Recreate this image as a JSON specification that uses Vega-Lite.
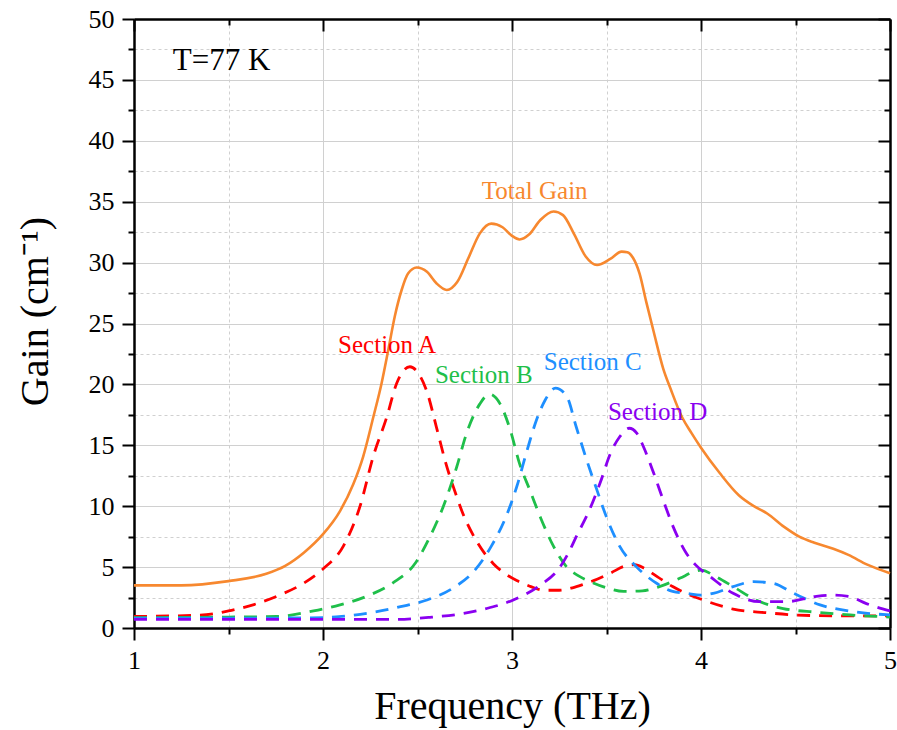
{
  "$schema": "https://vega.github.io/schema/vega-lite/v6.json",
  "width": 756,
  "height": 609,
  "autosize": {"type": "none"},
  "padding": {"left": 134, "top": 19, "right": 7, "bottom": 102},
  "background": "white",
  "config": {
    "view": {"stroke": null},
    "axis": {
      "labelFont": "Liberation Serif",
      "labelFontSize": 26,
      "labelColor": "black",
      "titleFont": "Liberation Serif",
      "titleFontWeight": "normal",
      "titleColor": "black",
      "tickColor": "black",
      "tickWidth": 2,
      "domainColor": "black",
      "domainWidth": 2.5,
      "labelFlush": false,
      "labelOverlap": false,
      "gridColor": "#d0d0d0",
      "gridWidth": 1
    },
    "text": {"font": "Liberation Serif"}
  },
  "datasets": {
    "total": [
      {"f": 1.0, "g": 3.5}, {"f": 1.25, "g": 3.5}, {"f": 1.5, "g": 3.85}, {"f": 1.7, "g": 4.45},
      {"f": 1.8, "g": 5.1}, {"f": 1.9, "g": 6.2}, {"f": 2.0, "g": 7.7}, {"f": 2.09, "g": 9.6},
      {"f": 2.16, "g": 11.8}, {"f": 2.213, "g": 14.1}, {"f": 2.266, "g": 17.3}, {"f": 2.31, "g": 20.1},
      {"f": 2.345, "g": 22.8}, {"f": 2.38, "g": 25.6}, {"f": 2.416, "g": 27.75}, {"f": 2.45, "g": 29.1},
      {"f": 2.496, "g": 29.6}, {"f": 2.55, "g": 29.25}, {"f": 2.6, "g": 28.3}, {"f": 2.655, "g": 27.75},
      {"f": 2.71, "g": 28.4}, {"f": 2.77, "g": 30.4}, {"f": 2.83, "g": 32.4}, {"f": 2.89, "g": 33.2},
      {"f": 2.95, "g": 32.9}, {"f": 3.0, "g": 32.2}, {"f": 3.04, "g": 31.9}, {"f": 3.09, "g": 32.3},
      {"f": 3.15, "g": 33.5}, {"f": 3.22, "g": 34.2}, {"f": 3.27, "g": 33.9}, {"f": 3.33, "g": 32.3},
      {"f": 3.39, "g": 30.5}, {"f": 3.45, "g": 29.8}, {"f": 3.52, "g": 30.3}, {"f": 3.58, "g": 30.9},
      {"f": 3.61, "g": 30.85}, {"f": 3.64, "g": 30.4}, {"f": 3.675, "g": 29.1}, {"f": 3.71, "g": 26.8},
      {"f": 3.75, "g": 24.3},
      {"f": 3.8, "g": 21.3}, {"f": 3.84, "g": 19.6}, {"f": 3.9, "g": 17.3}, {"f": 3.95, "g": 16.0},
      {"f": 4.0, "g": 14.8}, {"f": 4.1, "g": 12.7}, {"f": 4.2, "g": 10.9}, {"f": 4.28, "g": 10.0},
      {"f": 4.35, "g": 9.4}, {"f": 4.44, "g": 8.3}, {"f": 4.52, "g": 7.5}, {"f": 4.6, "g": 7.0},
      {"f": 4.7, "g": 6.5}, {"f": 4.78, "g": 6.0}, {"f": 4.88, "g": 5.2}, {"f": 5.0, "g": 4.5}
    ],
    "sections": [
      {"s": "Section A", "f": 1.0, "g": 0.95}, {"s": "Section A", "f": 1.35, "g": 1.05}, {"s": "Section A", "f": 1.5, "g": 1.4},
      {"s": "Section A", "f": 1.65, "g": 2.0}, {"s": "Section A", "f": 1.77, "g": 2.7}, {"s": "Section A", "f": 1.9, "g": 3.7},
      {"s": "Section A", "f": 2.0, "g": 4.85}, {"s": "Section A", "f": 2.107, "g": 6.7}, {"s": "Section A", "f": 2.196, "g": 10.0},
      {"s": "Section A", "f": 2.266, "g": 14.1}, {"s": "Section A", "f": 2.337, "g": 17.3}, {"s": "Section A", "f": 2.39, "g": 20.1},
      {"s": "Section A", "f": 2.43, "g": 21.2}, {"s": "Section A", "f": 2.46, "g": 21.45},
      {"s": "Section A", "f": 2.505, "g": 20.9}, {"s": "Section A", "f": 2.55, "g": 19.4}, {"s": "Section A", "f": 2.6, "g": 16.5},
      {"s": "Section A", "f": 2.645, "g": 13.8}, {"s": "Section A", "f": 2.707, "g": 10.8}, {"s": "Section A", "f": 2.74, "g": 9.4},
      {"s": "Section A", "f": 2.81, "g": 7.2}, {"s": "Section A", "f": 2.9, "g": 5.3},
      {"s": "Section A", "f": 2.96, "g": 4.5}, {"s": "Section A", "f": 3.025, "g": 3.9}, {"s": "Section A", "f": 3.1, "g": 3.4},
      {"s": "Section A", "f": 3.166, "g": 3.1}, {"s": "Section A", "f": 3.25, "g": 3.1}, {"s": "Section A", "f": 3.32, "g": 3.3},
      {"s": "Section A", "f": 3.38, "g": 3.6},
      {"s": "Section A", "f": 3.45, "g": 4.0}, {"s": "Section A", "f": 3.52, "g": 4.5}, {"s": "Section A", "f": 3.6, "g": 5.1},
      {"s": "Section A", "f": 3.65, "g": 5.2}, {"s": "Section A", "f": 3.7, "g": 4.9}, {"s": "Section A", "f": 3.77, "g": 4.2},
      {"s": "Section A", "f": 3.85, "g": 3.4}, {"s": "Section A", "f": 3.92, "g": 2.85}, {"s": "Section A", "f": 4.03, "g": 2.2},
      {"s": "Section A", "f": 4.17, "g": 1.55}, {"s": "Section A", "f": 4.35, "g": 1.25}, {"s": "Section A", "f": 4.5, "g": 1.07},
      {"s": "Section A", "f": 4.7, "g": 1.0}, {"s": "Section A", "f": 5.0, "g": 1.0},

      {"s": "Section B", "f": 1.0, "g": 0.85}, {"s": "Section B", "f": 1.5, "g": 0.9}, {"s": "Section B", "f": 1.755, "g": 0.95},
      {"s": "Section B", "f": 1.95, "g": 1.4}, {"s": "Section B", "f": 2.09, "g": 1.9}, {"s": "Section B", "f": 2.23, "g": 2.6},
      {"s": "Section B", "f": 2.37, "g": 3.7}, {"s": "Section B", "f": 2.487, "g": 5.3}, {"s": "Section B", "f": 2.566, "g": 7.5},
      {"s": "Section B", "f": 2.637, "g": 10.0}, {"s": "Section B", "f": 2.707, "g": 13.2},
      {"s": "Section B", "f": 2.76, "g": 16.0}, {"s": "Section B", "f": 2.83, "g": 18.4}, {"s": "Section B", "f": 2.88, "g": 19.2},
      {"s": "Section B", "f": 2.937, "g": 18.4}, {"s": "Section B", "f": 2.99, "g": 16.3}, {"s": "Section B", "f": 3.04, "g": 13.5},
      {"s": "Section B", "f": 3.095, "g": 11.3}, {"s": "Section B", "f": 3.15, "g": 9.1}, {"s": "Section B", "f": 3.22, "g": 6.7},
      {"s": "Section B", "f": 3.29, "g": 5.0}, {"s": "Section B", "f": 3.35, "g": 4.3}, {"s": "Section B", "f": 3.43, "g": 3.7},
      {"s": "Section B", "f": 3.5, "g": 3.3}, {"s": "Section B", "f": 3.59, "g": 3.0}, {"s": "Section B", "f": 3.69, "g": 3.05},
      {"s": "Section B", "f": 3.78, "g": 3.4}, {"s": "Section B", "f": 3.89, "g": 4.1}, {"s": "Section B", "f": 3.96, "g": 4.6},
      {"s": "Section B", "f": 4.0, "g": 4.75}, {"s": "Section B", "f": 4.08, "g": 4.2}, {"s": "Section B", "f": 4.17, "g": 3.4},
      {"s": "Section B", "f": 4.29, "g": 2.3}, {"s": "Section B", "f": 4.435, "g": 1.6}, {"s": "Section B", "f": 4.61, "g": 1.3},
      {"s": "Section B", "f": 4.79, "g": 1.07}, {"s": "Section B", "f": 5.0, "g": 0.9},

      {"s": "Section C", "f": 1.0, "g": 0.8}, {"s": "Section C", "f": 1.5, "g": 0.8}, {"s": "Section C", "f": 2.0, "g": 0.85},
      {"s": "Section C", "f": 2.1, "g": 0.95}, {"s": "Section C", "f": 2.27, "g": 1.3}, {"s": "Section C", "f": 2.41, "g": 1.75},
      {"s": "Section C", "f": 2.55, "g": 2.3}, {"s": "Section C", "f": 2.69, "g": 3.3}, {"s": "Section C", "f": 2.795, "g": 4.6},
      {"s": "Section C", "f": 2.89, "g": 6.7}, {"s": "Section C", "f": 2.97, "g": 9.2},
      {"s": "Section C", "f": 3.025, "g": 11.6}, {"s": "Section C", "f": 3.08, "g": 14.6},
      {"s": "Section C", "f": 3.13, "g": 17.1}, {"s": "Section C", "f": 3.175, "g": 18.7}, {"s": "Section C", "f": 3.23, "g": 19.7},
      {"s": "Section C", "f": 3.29, "g": 19.0}, {"s": "Section C", "f": 3.34, "g": 16.5}, {"s": "Section C", "f": 3.395, "g": 13.8},
      {"s": "Section C", "f": 3.45, "g": 11.3}, {"s": "Section C", "f": 3.5, "g": 9.1}, {"s": "Section C", "f": 3.57, "g": 6.7},
      {"s": "Section C", "f": 3.66, "g": 5.0}, {"s": "Section C", "f": 3.765, "g": 3.67}, {"s": "Section C", "f": 3.85, "g": 3.0},
      {"s": "Section C", "f": 3.924, "g": 2.85}, {"s": "Section C", "f": 4.0, "g": 2.7}, {"s": "Section C", "f": 4.065, "g": 2.85},
      {"s": "Section C", "f": 4.17, "g": 3.4}, {"s": "Section C", "f": 4.277, "g": 3.8}, {"s": "Section C", "f": 4.38, "g": 3.67},
      {"s": "Section C", "f": 4.49, "g": 2.85}, {"s": "Section C", "f": 4.63, "g": 1.9}, {"s": "Section C", "f": 4.81, "g": 1.34},
      {"s": "Section C", "f": 5.0, "g": 1.07},

      {"s": "Section D", "f": 1.0, "g": 0.7}, {"s": "Section D", "f": 2.0, "g": 0.7}, {"s": "Section D", "f": 2.37, "g": 0.7},
      {"s": "Section D", "f": 2.566, "g": 0.88}, {"s": "Section D", "f": 2.725, "g": 1.15}, {"s": "Section D", "f": 2.866, "g": 1.6},
      {"s": "Section D", "f": 3.007, "g": 2.3}, {"s": "Section D", "f": 3.148, "g": 3.5},
      {"s": "Section D", "f": 3.254, "g": 5.0}, {"s": "Section D", "f": 3.3, "g": 6.2}, {"s": "Section D", "f": 3.34, "g": 7.5},
      {"s": "Section D", "f": 3.41, "g": 9.7}, {"s": "Section D", "f": 3.466, "g": 11.9}, {"s": "Section D", "f": 3.52, "g": 14.3},
      {"s": "Section D", "f": 3.57, "g": 15.7}, {"s": "Section D", "f": 3.62, "g": 16.4}, {"s": "Section D", "f": 3.66, "g": 16.0},
      {"s": "Section D", "f": 3.695, "g": 14.9}, {"s": "Section D", "f": 3.75, "g": 12.7}, {"s": "Section D", "f": 3.8, "g": 10.5},
      {"s": "Section D", "f": 3.853, "g": 8.3}, {"s": "Section D", "f": 3.924, "g": 6.1}, {"s": "Section D", "f": 3.97, "g": 5.2},
      {"s": "Section D", "f": 4.05, "g": 4.2}, {"s": "Section D", "f": 4.17, "g": 2.85}, {"s": "Section D", "f": 4.31, "g": 2.16},
      {"s": "Section D", "f": 4.45, "g": 2.16}, {"s": "Section D", "f": 4.61, "g": 2.6}, {"s": "Section D", "f": 4.7, "g": 2.7},
      {"s": "Section D", "f": 4.78, "g": 2.6}, {"s": "Section D", "f": 4.875, "g": 2.0}, {"s": "Section D", "f": 5.0, "g": 1.4}
    ],
    "labels": [
      {"s": "Total Gain", "f": 3.12, "g": 35.9},
      {"s": "Section A", "f": 2.339, "g": 23.2},
      {"s": "Section B", "f": 2.851, "g": 20.8},
      {"s": "Section C", "f": 3.427, "g": 21.8},
      {"s": "Section D", "f": 3.77, "g": 17.76}
    ],
    "temp": [
      {"t": "T=77 K", "f": 1.205, "g": 46.55}
    ]
  },
  "resolve": {"axis": {"x": "independent", "y": "independent"}},
  "layer": [
    {
      "data": {"name": "total"},
      "mark": {"type": "line", "color": "#F7882F", "strokeWidth": 2.6, "interpolate": "monotone"},
      "encoding": {
        "x": {
          "field": "f", "type": "quantitative",
          "scale": {"domain": [1, 5], "nice": false, "zero": false},
          "axis": {
            "orient": "bottom", "values": [1, 2, 3, 4, 5], "format": "d",
            "grid": true, "tickSize": 12, "labelPadding": 7,
            "title": "Frequency (THz)", "titleFontSize": 40,
            "titleBaseline": "alphabetic", "titleY": 90
          }
        },
        "y": {
          "field": "g", "type": "quantitative",
          "scale": {"domain": [0, 50], "nice": false},
          "axis": {
            "orient": "left", "values": [0, 5, 10, 15, 20, 25, 30, 35, 40, 45, 50], "format": "d",
            "grid": true, "tickSize": 12, "labelPadding": 8,
            "title": "Gain (cm⁻¹)", "titleFontSize": 40, "titleAngle": -90,
            "titleBaseline": "alphabetic", "titleX": -87, "titleY": 292, "titleAlign": "center"
          }
        }
      }
    },
    {
      "data": {"name": "sections"},
      "mark": {"type": "line", "strokeWidth": 2.8, "strokeDash": [13, 9], "interpolate": "monotone"},
      "encoding": {
        "x": {
          "field": "f", "type": "quantitative",
          "axis": {
            "orient": "bottom", "values": [1.5, 2.5, 3.5, 4.5],
            "grid": true, "gridDash": [3, 3], "tickSize": 6, "labels": false,
            "domain": false, "title": null
          }
        },
        "y": {
          "field": "g", "type": "quantitative",
          "axis": {
            "orient": "left", "values": [2.5, 7.5, 12.5, 17.5, 22.5, 27.5, 32.5, 37.5, 42.5, 47.5],
            "grid": true, "gridDash": [3, 3], "tickSize": 6, "labels": false,
            "domain": false, "title": null
          }
        },
        "color": {
          "field": "s", "type": "nominal",
          "scale": {
            "domain": ["Total Gain", "Section A", "Section B", "Section C", "Section D"],
            "range": ["#F7882F", "#FF0000", "#1FBF4A", "#1E8FFF", "#8A00F0"]
          },
          "legend": null
        }
      }
    },
    {
      "data": {"name": "labels"},
      "mark": {"type": "text", "fontSize": 25, "baseline": "middle", "align": "center"},
      "encoding": {
        "x": {
          "field": "f", "type": "quantitative",
          "axis": {
            "orient": "top", "values": [1, 2, 3, 4, 5], "tickSize": -12,
            "labels": false, "grid": false, "title": null
          }
        },
        "y": {
          "field": "g", "type": "quantitative",
          "axis": {
            "orient": "right", "values": [0, 5, 10, 15, 20, 25, 30, 35, 40, 45, 50], "tickSize": -12,
            "labels": false, "grid": false, "title": null
          }
        },
        "text": {"field": "s"},
        "color": {"field": "s", "type": "nominal", "legend": null}
      }
    },
    {
      "data": {"name": "temp"},
      "mark": {"type": "text", "fontSize": 31, "baseline": "middle", "align": "left", "color": "black"},
      "encoding": {
        "x": {
          "field": "f", "type": "quantitative",
          "axis": {
            "orient": "top", "values": [1.5, 2.5, 3.5, 4.5], "tickSize": -6,
            "labels": false, "grid": false, "domain": false, "title": null
          }
        },
        "y": {
          "field": "g", "type": "quantitative",
          "axis": {
            "orient": "right", "values": [2.5, 7.5, 12.5, 17.5, 22.5, 27.5, 32.5, 37.5, 42.5, 47.5], "tickSize": -6,
            "labels": false, "grid": false, "domain": false, "title": null
          }
        },
        "text": {"field": "t"}
      }
    }
  ]
}
